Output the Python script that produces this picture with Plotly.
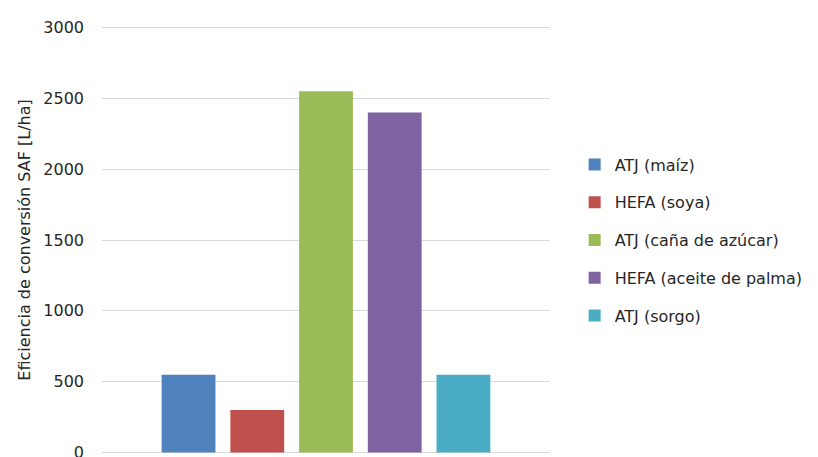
import plotly.graph_objects as go

series_names = ["ATJ (maíz)", "HEFA (soya)", "ATJ (caña de azúcar)",
                "HEFA (aceite de palma)", "ATJ (sorgo)"]
series_values = [550, 300, 2550, 2400, 550]
series_colors = ["#4F81BD", "#C0504D", "#9BBB59", "#8064A2", "#4BACC6"]
category = [""]
y_ticks = [0, 500, 1000, 1500, 2000, 2500, 3000]
y_range = [-10, 3010]

fig = go.Figure()
for i, (name, val, col) in enumerate(zip(series_names, series_values, series_colors)):
    fig.add_trace(go.Bar(x=category, y=[val], name=name, marker_color=col,
                         marker_line_width=0, legendgroup=str(i)))

FONT = "DejaVu Sans, Liberation Sans, Arial, sans-serif"
fig.update_layout(
    width=810, height=449,
    margin=dict(l=94, r=268, t=18, b=3, autoexpand=False),
    paper_bgcolor="white", plot_bgcolor="white",
    barmode="group", bargap=0.233, bargroupgap=0.217,
    font=dict(family=FONT, size=16, color="#262626"),
    showlegend=True,
    legend=dict(x=1.055, y=0.5, yanchor="middle", xanchor="left",
                traceorder="grouped", tracegroupgap=14,
                font=dict(family=FONT, size=16, color="#262626"),
                itemwidth=30),
    xaxis=dict(showticklabels=False, showgrid=False, zeroline=False,
               showline=False, ticks="", automargin=False),
    yaxis=dict(range=y_range, tickvals=y_ticks, showgrid=True,
               gridcolor="#D9D9D9", gridwidth=1, zeroline=False,
               ticks="", ticklabelstandoff=17, ticklabeloverflow="allow",
               automargin=False,
               title=dict(text="Eficiencia de conversión SAF [L/ha]",
                          font=dict(family=FONT, size=16, color="#262626"),
                          standoff=8)),
)

fig.write_html("out.html")
